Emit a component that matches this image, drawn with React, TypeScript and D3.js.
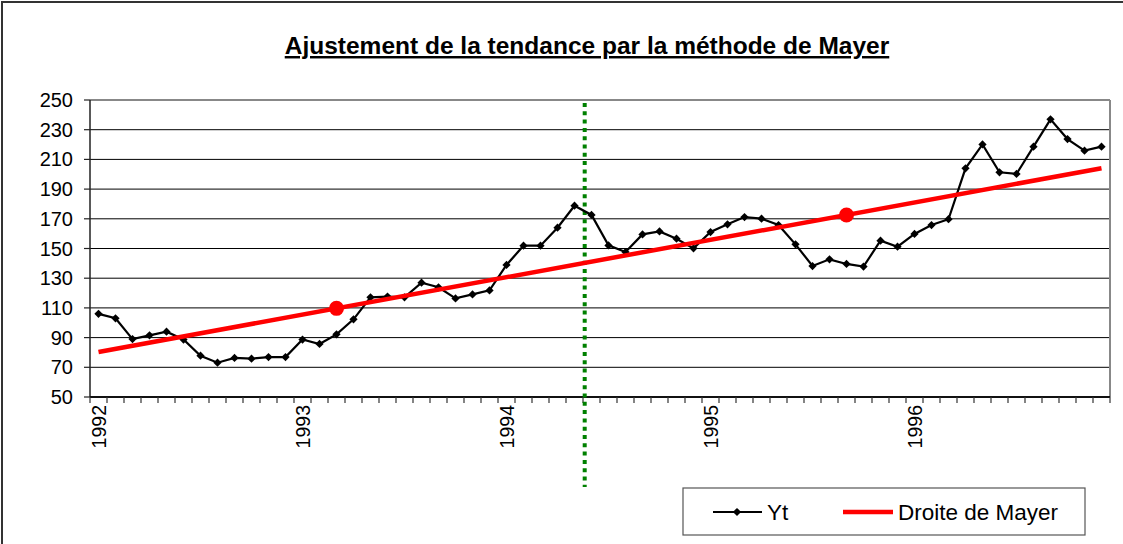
import React from 'react';
import * as d3 from 'd3';

// valeurs mensuelles Yt (janvier 1992 -> décembre 1996)
const yt: number[] = [
  106, 103, 89, 91.5, 94, 88.7, 77.8, 73.1, 76.3, 75.8, 76.9, 76.9,
  88.7, 85.7, 92.2, 102.3, 117.1, 117.6, 117.1, 127, 123.9, 116.4, 119.1, 121.8,
  138.9, 151.9, 151.9, 164, 178.8, 172.6, 152.1, 147.6, 159.5, 161.5, 156.6, 150.1,
  161.1, 166.3, 171.2, 170.1, 165.8, 152.8, 138.2, 142.7, 139.6, 137.8, 155.3, 151.2,
  159.8, 165.8, 169.7, 204, 220.1, 201.3, 200.2, 218.6, 237, 223.7, 215.9, 218.6
];

const years: string[] = ['1992', '1993', '1994', '1995', '1996'];
const yTicks: number[] = [50, 70, 90, 110, 130, 150, 170, 190, 210, 230, 250];

// points moyens de Mayer (indice du mois, valeur)
const mayerT: number[] = [14, 44];
const mayerY: number[] = [109.7, 172.6];

// séparation des deux groupes
const splitT = 28.6;

const W = 1123;
const H = 544;
const font = '"Liberation Sans", Arial, sans-serif';

const App: React.FC = () => {
  const n = yt.length;
  const x = d3.scaleLinear().domain([-0.5, n - 0.5]).range([90, 1110]);
  const y = d3.scaleLinear().domain([50, 250]).range([397, 100]);

  const slope = (mayerY[1] - mayerY[0]) / (mayerT[1] - mayerT[0]);
  const trend = (t: number) => mayerY[0] + (t - mayerT[0]) * slope;

  const line = d3.line<number>().x((_, i) => x(i)).y(d => y(d));
  const diamond = d3.symbol(d3.symbolSquare, 34)();

  const boundaries = d3.range(n + 1).map(i => i - 0.5);

  return (
    <svg width={W} height={H} style={{ position: 'absolute', left: 0, top: 0, background: '#fff' }}>
      <rect x={2} y={2} width={W + 10} height={H + 10} fill="#fff" stroke="#333" strokeWidth={2} />

      <text x={587} y={54} textAnchor="middle" fontFamily={font} fontSize={24.5} fontWeight="bold"
        textDecoration="underline">
        Ajustement de la tendance par la méthode de Mayer
      </text>

      {/* grille */}
      {yTicks.slice(1, -1).map(v => (
        <line key={v} x1={x(-0.5)} x2={x(n - 0.5)} y1={y(v)} y2={y(v)} stroke="#000" strokeWidth={1} />
      ))}
      <line x1={x(-0.5)} x2={x(n - 0.5)} y1={y(250)} y2={y(250)} stroke="#888" strokeWidth={2} />
      <line x1={x(n - 0.5)} x2={x(n - 0.5)} y1={y(250)} y2={y(50)} stroke="#888" strokeWidth={2} />

      {/* axe Y */}
      <line x1={x(-0.5)} x2={x(-0.5)} y1={y(250)} y2={y(50)} stroke="#222" strokeWidth={1.5} />
      {yTicks.map(v => (
        <g key={v}>
          <line x1={x(-0.5) - 6} x2={x(-0.5)} y1={y(v)} y2={y(v)} stroke="#222" strokeWidth={1.2} />
          <text x={73} y={y(v) + 7} textAnchor="end" fontFamily={font} fontSize={20}>{v}</text>
        </g>
      ))}

      {/* axe X */}
      <line x1={x(-0.5)} x2={x(n - 0.5)} y1={y(50)} y2={y(50)} stroke="#111" strokeWidth={2} />
      {boundaries.map(b => (
        <line key={b} x1={x(b)} x2={x(b)} y1={y(50)} y2={y(50) + 6} stroke="#333" strokeWidth={1.2} />
      ))}
      {years.map((yr, k) => (
        <text key={yr} transform={`translate(${x(k * 12) + 7},405) rotate(-90)`} textAnchor="end"
          fontFamily={font} fontSize={19.5}>{yr}</text>
      ))}

      {/* séparation */}
      <line x1={x(splitT)} x2={x(splitT)} y1={y(250) + 3} y2={487} stroke="#008000" strokeWidth={4}
        strokeDasharray="4,4.3" />

      {/* série Yt */}
      <path d={line(yt) || ''} fill="none" stroke="#000" strokeWidth={2.2} />
      {yt.map((v, i) => (
        <path key={i} d={diamond || ''} transform={`translate(${x(i)},${y(v)}) rotate(45)`} fill="#000" />
      ))}

      {/* droite de Mayer */}
      <line x1={x(0)} x2={x(n - 1)} y1={y(trend(0))} y2={y(trend(n - 1))} stroke="#ff0000" strokeWidth={4.5} />
      {mayerT.map((t, i) => (
        <circle key={t} cx={x(t)} cy={y(mayerY[i])} r={7.5} fill="#ff0000" />
      ))}

      {/* légende */}
      <rect x={683} y={488} width={402} height={47} fill="#fff" stroke="#555" strokeWidth={1.2} />
      <line x1={713} x2={762} y1={512} y2={512} stroke="#000" strokeWidth={2} />
      <path d={diamond || ''} transform="translate(737,512) rotate(45)" fill="#000" />
      <text x={767} y={520} fontFamily={font} fontSize={22.5}>Yt</text>
      <line x1={843} x2={893} y1={512} y2={512} stroke="#ff0000" strokeWidth={4.5} />
      <text x={898} y={520} fontFamily={font} fontSize={22.5}>Droite de Mayer</text>
    </svg>
  );
};

export default App;
